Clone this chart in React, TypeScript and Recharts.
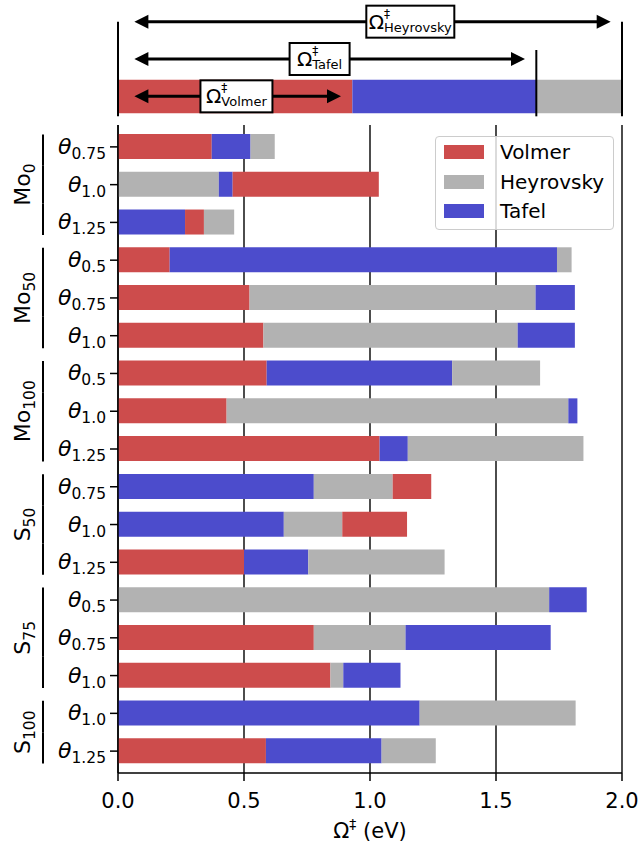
import React from "react";
import {
  BarChart,
  Bar,
  XAxis,
  YAxis,
  CartesianGrid,
  Cell,
  ReferenceLine,
  ReferenceDot,
} from "recharts";

// ---------------- data ----------------
const mechanisms = ["Volmer", "Heyrovsky", "Tafel"];

const groupNames = ["Mo", "Mo", "Mo", "S", "S", "S"];
const groupSubs = ["0", "50", "100", "50", "75", "100"];

const rowGroup = [0, 0, 0, 1, 1, 1, 2, 2, 2, 3, 3, 3, 4, 4, 4, 5, 5];
const rowTheta = [
  "0.75", "1.0", "1.25",
  "0.5", "0.75", "1.0",
  "0.5", "1.0", "1.25",
  "0.75", "1.0", "1.25",
  "0.5", "0.75", "1.0",
  "1.0", "1.25",
];

const volmer: (number | null)[] = [
  0.372, 1.035, 0.341,
  0.205, 0.522, 0.577,
  0.59, 0.431, 1.038,
  1.243, 1.147, 0.5,
  null, 0.777, 0.843,
  null, 0.587,
];
const heyrovsky: (number | null)[] = [
  0.622, 0.4, 0.461,
  1.8, 1.657, 1.586,
  1.675, 1.787, 1.847,
  1.09, 0.89, 1.296,
  1.711, 1.141, 0.894,
  1.816, 1.261,
];
const tafel: (number | null)[] = [
  0.526, 0.455, 0.266,
  1.742, 1.813, 1.813,
  1.326, 1.823, 1.15,
  0.777, 0.658, 0.755,
  1.86, 1.717, 1.121,
  1.197, 1.046,
];

const xTicks = [0, 0.5, 1.0, 1.5, 2.0];

// schematic (top panel)
const schemeRows = ["Heyrovsky", "Tafel", "Volmer"];
const schemeOmega = [2.0, 1.66, 0.93];
const schemeLabelX = [1.16, 0.8, 0.47];

// ---------------- styles ----------------
const FONT = "'DejaVu Sans', 'Liberation Sans', sans-serif";
const RED = "#cd4c4c";
const BLUE = "#4c4ccc";
const GRAY = "#b2b2b2";
const mechColors = [RED, GRAY, BLUE];

const W = 642;
const H = 845;
const PLOT_L = 118;
const PLOT_R = 622;
const MAIN_TOP = 125;
const MAIN_BOTTOM = 773;
const Y_PAD = 3;
const STEP = (MAIN_BOTTOM - MAIN_TOP - 2 * Y_PAD) / rowTheta.length;
const BAR = 25;
const TOP_BAR = 40;
const labelBoxW = [88, 60, 72];
const vlineRise = [0, 9];

// ---------------- derived tables ----------------
const series = [volmer, heyrovsky, tafel];
const mainData = rowTheta.map((_, i) => {
  const items = series
    .map((s, k) => ({ v: s[i], c: mechColors[k] }))
    .filter((d) => d.v != null)
    .sort((a, b) => (a.v as number) - (b.v as number));
  const row: any = { id: String(i) };
  let prev = 0;
  for (let j = 0; j < 3; j++) {
    const d = items[j];
    if (d) {
      row[`s${j}`] = (d.v as number) - prev;
      row[`c${j}`] = d.c;
      prev = d.v as number;
    } else {
      row[`s${j}`] = 0;
      row[`c${j}`] = "none";
    }
  }
  return row;
});

const topData = schemeRows.map((r) =>
  r === "Volmer"
    ? {
        row: r,
        v: schemeOmega[2],
        t: schemeOmega[1] - schemeOmega[2],
        h: schemeOmega[0] - schemeOmega[1],
      }
    : { row: r }
);

// ---------------- components ----------------
const YTick = (props: any) => {
  const { y, payload } = props;
  const i = Number(payload.value);
  const g = rowGroup[i];
  const members = rowGroup
    .map((gg, j) => (gg === g ? j : -1))
    .filter((j) => j >= 0);
  const first = members[0] === i;
  const last = members[members.length - 1] === i;
  const top = first ? y - BAR / 2 : y - STEP / 2;
  const bot = last ? y + BAR / 2 : y + STEP / 2;
  const labelY = y + ((members.length - 1) / 2) * STEP;
  return (
    <g>
      <text
        x={PLOT_L - 12}
        y={y + 7}
        textAnchor="end"
        fontFamily={FONT}
        fill="#000"
      >
        <tspan fontSize={22} fontStyle="italic">
          θ
        </tspan>
        <tspan fontSize={15.5} dy={5}>
          {rowTheta[i]}
        </tspan>
      </text>
      <line x1={43} x2={43} y1={top} y2={bot} stroke="#000" strokeWidth={2} />
      {first && (
        <text
          transform={`translate(22, ${labelY}) rotate(-90)`}
          textAnchor="middle"
          fontFamily={FONT}
          fontSize={22}
          fill="#000"
          dy="0.36em"
        >
          {groupNames[g]}
          <tspan fontSize={15.5} dy={5}>
            {groupSubs[g]}
          </tspan>
        </text>
      )}
    </g>
  );
};

const XLabel = (props: any) => {
  const vb = props.viewBox || { x: PLOT_L, y: MAIN_BOTTOM, width: PLOT_R - PLOT_L };
  return (
    <text
      x={vb.x + vb.width / 2}
      y={MAIN_BOTTOM + 65}
      textAnchor="middle"
      fontFamily={FONT}
      fontSize={21}
      fill="#000"
    >
      Ω
      <tspan fontSize={14} dy={-9}>
        ‡
      </tspan>
      <tspan dy={9}> (eV)</tspan>
    </text>
  );
};

const arrowShape = (p: any) => {
  const { x1, x2, y1 } = p;
  const head = 14;
  const hw = 7;
  return (
    <g>
      <line x1={x1 + head - 2} x2={x2 - head + 2} y1={y1} y2={y1} stroke="#000" strokeWidth={3} />
      <polygon points={`${x1},${y1} ${x1 + head},${y1 - hw} ${x1 + head},${y1 + hw}`} fill="#000" />
      <polygon points={`${x2},${y1} ${x2 - head},${y1 - hw} ${x2 - head},${y1 + hw}`} fill="#000" />
    </g>
  );
};

const vlineShape = (rise: number) => (p: any) => (
  <line
    x1={p.x1}
    x2={p.x2}
    y1={p.y1 - rise}
    y2={p.y2 + TOP_BAR / 2}
    stroke="#000"
    strokeWidth={2}
  />
);

const schemeLabelShape = (i: number) => (p: any) => {
  const { cx, cy } = p;
  const w = labelBoxW[i];
  return (
    <g>
      <rect x={cx - w / 2} y={cy - 16} width={w} height={32} fill="#fff" stroke="#000" strokeWidth={2} />
      <text x={cx} y={cy + 7} textAnchor="middle" fontFamily={FONT} fontSize={20} fill="#000">
        Ω
        <tspan fontSize={12} dy={-11}>
          ‡
        </tspan>
        <tspan fontSize={13} dx={-6} dy={14}>
          {schemeRows[i]}
        </tspan>
      </text>
    </g>
  );
};

const TopChart = () => (
  <BarChart
    width={W}
    height={125}
    data={topData}
    layout="vertical"
    margin={{ top: 3, right: W - PLOT_R, bottom: 10, left: PLOT_L }}
    barCategoryGap={0}
  >
    <XAxis type="number" domain={[0, 2]} hide />
    <YAxis type="category" dataKey="row" hide />
    <Bar dataKey="v" stackId="a" fill={RED} barSize={TOP_BAR} isAnimationActive={false} />
    <Bar dataKey="t" stackId="a" fill={BLUE} barSize={TOP_BAR} isAnimationActive={false} />
    <Bar dataKey="h" stackId="a" fill={GRAY} barSize={TOP_BAR} isAnimationActive={false} />
    <ReferenceLine
      segment={[{ x: 0, y: schemeRows[0] }, { x: 0, y: "Volmer" }]}
      ifOverflow="visible"
      shape={vlineShape(0)}
    />
    {schemeRows.slice(0, 2).map((r, i) => (
      <ReferenceLine
        key={"v" + r}
        segment={[{ x: schemeOmega[i], y: r }, { x: schemeOmega[i], y: "Volmer" }]}
        ifOverflow="visible"
        shape={vlineShape(vlineRise[i])}
      />
    ))}
    {schemeRows.map((r, i) => (
      <ReferenceLine
        key={"a" + r}
        segment={[{ x: 0.065, y: r }, { x: schemeOmega[i] - 0.045, y: r }]}
        ifOverflow="visible"
        shape={arrowShape}
      />
    ))}
    {schemeRows.map((r, i) => (
      <ReferenceDot
        key={"l" + r}
        x={schemeLabelX[i]}
        y={r}
        ifOverflow="visible"
        shape={schemeLabelShape(i)}
      />
    ))}
  </BarChart>
);

const MainChart = () => (
  <BarChart
    width={W}
    height={H}
    data={mainData}
    layout="vertical"
    margin={{ top: MAIN_TOP, right: W - PLOT_R, bottom: H - MAIN_BOTTOM - 60, left: 0 }}
  >
    <CartesianGrid horizontal={false} stroke="#000" strokeWidth={1.4} />
    <XAxis
      type="number"
      domain={[0, 2]}
      ticks={xTicks}
      tickFormatter={(v: number) => v.toFixed(1)}
      tick={{ fontSize: 21, fill: "#000", fontFamily: FONT }}
      tickSize={8}
      tickMargin={12}
      axisLine={{ stroke: "#000", strokeWidth: 1.5 }}
      tickLine={{ stroke: "#000", strokeWidth: 1.5 }}
      height={60}
      label={<XLabel />}
    />
    <XAxis
      xAxisId="top"
      orientation="top"
      type="number"
      domain={[0, 2]}
      height={0}
      tick={false}
      tickLine={false}
      axisLine={{ stroke: "#000", strokeWidth: 1.5 }}
    />
    <YAxis
      type="category"
      dataKey="id"
      width={PLOT_L}
      interval={0}
      padding={{ top: Y_PAD, bottom: Y_PAD }}
      tick={<YTick />}
      tickSize={8}
      axisLine={{ stroke: "#000", strokeWidth: 1.5 }}
      tickLine={{ stroke: "#000", strokeWidth: 1.5 }}
    />
    <YAxis
      yAxisId="right"
      orientation="right"
      type="category"
      dataKey="id"
      width={0}
      tick={false}
      tickLine={false}
      axisLine={{ stroke: "#000", strokeWidth: 1.5 }}
    />
    {[0, 1, 2].map((j) => (
      <Bar key={j} dataKey={`s${j}`} stackId="m" barSize={BAR} isAnimationActive={false}>
        {mainData.map((d, i) => (
          <Cell key={i} fill={d[`c${j}`]} />
        ))}
      </Bar>
    ))}
  </BarChart>
);

const LegendBox = () => (
  <div
    style={{
      position: "absolute",
      left: 435,
      top: 136,
      width: 179,
      height: 94,
      boxSizing: "border-box",
      border: "1px solid #cccccc",
      borderRadius: 4,
      background: "rgba(255,255,255,0.8)",
      fontFamily: FONT,
      fontSize: 20,
      color: "#000",
    }}
  >
    {mechanisms.map((m, k) => (
      <div
        key={m}
        style={{
          position: "absolute",
          left: 0,
          top: 15 + k * 29.5 - 12,
          height: 24,
          display: "flex",
          alignItems: "center",
        }}
      >
        <div style={{ marginLeft: 8, width: 40, height: 14, background: mechColors[k] }} />
        <div style={{ marginLeft: 16, lineHeight: "24px" }}>{m}</div>
      </div>
    ))}
  </div>
);

export default function App() {
  return (
    <div style={{ position: "absolute", left: 0, top: 0, width: W, height: H, background: "#fff" }}>
      <div style={{ position: "absolute", left: 0, top: 0 }}>
        <TopChart />
      </div>
      <div style={{ position: "absolute", left: 0, top: 0 }}>
        <MainChart />
      </div>
      <LegendBox />
    </div>
  );
}
